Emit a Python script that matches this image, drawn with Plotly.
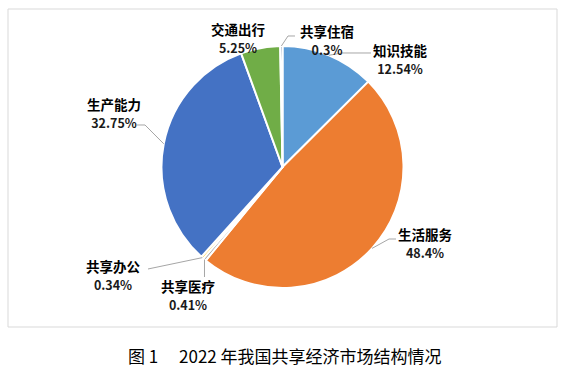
import math
import plotly.graph_objects as go

# ---- data ----
categories = ["知识技能", "生活服务", "共享医疗", "共享办公", "生产能力", "交通出行", "共享住宿"]
shares = [12.54, 48.4, 0.41, 0.34, 32.75, 5.25, 0.3]
value_labels = ["12.54%", "48.4%", "0.41%", "0.34%", "32.75%", "5.25%", "0.3%"]
caption = "图 1　 2022 年我国共享经济市场结构情况"

# ---- styling / layout ----
W, H = 567, 371
colors = ["#5B9BD5", "#ED7D31", "#A5A5A5", "#FFC000", "#4472C4", "#70AD47", "#264478"]
CX, CY, R = 282.5, 167.0, 121.0  # pie centre and radius in pixels

# label placement (pixels): label block centre, leader elbow points
label_pos = {
    "知识技能": dict(c=(400, 59), elbow=[(342, 53), (371, 53)]),
    "生活服务": dict(c=(425, 243), elbow=[(389, 239), (396, 239)]),
    "共享医疗": dict(c=(188, 295), elbow=["vert", 277]),
    "共享办公": dict(c=(113, 274.5), elbow=[(148, 269)]),
    "生产能力": dict(c=(113.5, 112.5), elbow=[(145, 125), (137, 125)]),
    "交通出行": dict(c=(238, 37.5), elbow=[]),
    "共享住宿": dict(c=(326.5, 40.5), elbow=[(288, 36), (295, 36)]),
}

def px(x):
    return x / W

def py(y):
    return 1 - y / H

fig = go.Figure(go.Pie(
    labels=categories,
    values=shares,
    sort=False,
    direction="clockwise",
    rotation=0,
    marker=dict(colors=colors, line=dict(color="white", width=2)),
    textinfo="none",
    hoverinfo="label+percent",
    domain=dict(x=[px(CX - R), px(CX + R)], y=[py(CY + R), py(CY - R)]),
    showlegend=False,
))

total = sum(shares)
annotations = []
shapes = [dict(type="rect", xref="paper", yref="paper",
               x0=px(8), x1=px(557), y0=py(327), y1=py(9),
               line=dict(color="#D9D9D9", width=1), layer="below")]

cum = 0.0
for cat, v, vl in zip(categories, shares, value_labels):
    mid = (cum + v / 2) / total * 2 * math.pi
    cum += v
    ex = CX + R * math.sin(mid)
    ey = CY - R * math.cos(mid)
    lp = label_pos[cat]
    text = "<b>%s</b><br><span style='font-size:12.5px;fill:#1a1a1a'><b>%s</b></span>" % (cat, vl)
    annotations.append(dict(x=px(lp["c"][0]), y=py(lp["c"][1]), xref="paper", yref="paper",
                            text=text, showarrow=False,
                            font=dict(family="Noto Sans CJK SC", size=13.5, color="#000000"),
                            xanchor="center", yanchor="middle", align="center"))
    el = lp["elbow"]
    if not el:
        continue
    if el[0] == "vert":
        pts = [(ex, ey), (ex, el[1])]
    else:
        pts = [(ex, ey)] + list(el)
    path = "M " + " L ".join("%f,%f" % (px(a), py(b)) for a, b in pts)
    shapes.append(dict(type="path", xref="paper", yref="paper", path=path,
                       line=dict(color="#A6A6A6", width=1)))

annotations.append(dict(x=px(285), y=py(355), xref="paper", yref="paper",
                        text=caption, showarrow=False,
                        font=dict(family="Noto Sans CJK SC", size=17, color="#000000"),
                        xanchor="center", yanchor="middle"))

fig.update_layout(
    width=W, height=H,
    margin=dict(l=0, r=0, t=0, b=0),
    paper_bgcolor="white",
    plot_bgcolor="white",
    annotations=annotations,
    shapes=shapes,
)

fig.write_html(
    "out.html",
    config={"displayModeBar": False},
    post_script="document.body.style.margin='0px';document.body.style.overflow='hidden';",
)
